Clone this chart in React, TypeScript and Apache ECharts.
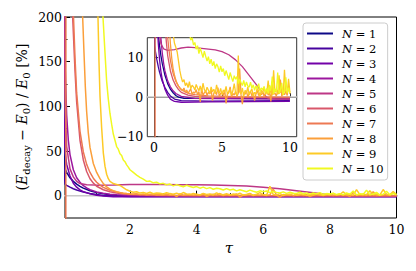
import { useEffect, useRef } from "react";
import * as echarts from "echarts";

const N_LABELS = ["N = 1", "N = 2", "N = 3", "N = 4", "N = 5", "N = 6", "N = 7", "N = 8", "N = 9", "N = 10"];
const COLORS = ["#0d0887", "#46039f", "#7201a8", "#9c179e", "#bd3786", "#d8576b", "#ed7953", "#fb9f3a", "#fdca26", "#f0f921"];

const MAIN_X_LABELS = [2, 4, 6, 8, 10];
const MAIN_X_MINOR = [1, 3, 5, 7, 9];
const MAIN_Y_LABELS = [0, 50, 100, 150, 200];
const MAIN_Y_MINOR = [25, 75, 125, 175];
const INSET_X_LABELS = [0, 5, 10];
const INSET_Y_LABELS = [-10, 0, 10];

const N1 = [[0, 60], [0.05, 30], [0.1, 26], [0.2, 20], [0.3, 16], [0.4, 13], [0.5, 10.5], [0.6, 8.5], [0.8, 5.5], [1.0, 3.4], [1.2, 2], [1.4, 1.1], [1.6, 0.4], [1.8, 0], [2.2, -0.3], [10, -0.4]];
const N2 = [[0, 40], [0.05, 13], [0.1, 11.5], [0.2, 9.5], [0.3, 7.8], [0.4, 6.3], [0.6, 4], [0.8, 2.4], [1.0, 1.2], [1.2, 0.3], [1.5, -0.5], [2, -0.9], [4, -1], [10, -0.9]];
const N3 = [[0, 120], [0.05, 50], [0.1, 35], [0.2, 22], [0.3, 14], [0.4, 9.5], [0.5, 6.5], [0.6, 4.5], [0.8, 2], [1.0, 0.5], [1.2, -0.5], [1.5, -1.1], [2, -1.3], [4, -1.2], [10, -1.1]];
const N4 = [[0, 400], [0.05, 150], [0.1, 90], [0.15, 62], [0.2, 46], [0.3, 29], [0.4, 20], [0.5, 15], [0.6, 11.2], [0.7, 8.6], [0.8, 6.6], [1.0, 4.1], [1.2, 2.6], [1.4, 1.6], [1.6, 0.9], [2, 0.2], [3, -0.3], [10, -0.5]];
const N5 = [[0, 250], [0.05, 110], [0.1, 55], [0.2, 30], [0.3, 21], [0.4, 16], [0.5, 13.5], [0.7, 12.2], [1.0, 11.8], [1.5, 12.0], [2, 12.4], [2.5, 12.6], [3, 12.5], [3.5, 12.3], [4, 12.1], [4.5, 11.9], [5, 11.5], [5.5, 10.7], [6, 9.4], [6.5, 7.7], [7, 5.5], [7.5, 3.3], [7.8, 1.9], [8.1, 0.6], [8.4, -0.3], [9, -0.5], [10, -0.5]];
const N6 = [[0, 900], [0.05, 600], [0.2, 300], [0.28, 200], [0.35, 140], [0.4, 105], [0.5, 62], [0.6, 40], [0.7, 27], [0.8, 19], [0.9, 14], [1.0, 10.5], [1.2, 6.6], [1.4, 4.3], [1.6, 2.9], [1.8, 1.9], [2, 1.2], [2.5, 0.5], [3, 0.2], [4, 0], [10, -0.2]];
const N7 = [[0, -600], [0.07, -600], [0.08, 600], [0.25, 260], [0.3, 205], [0.35, 155], [0.4, 115], [0.5, 72], [0.6, 49], [0.7, 35], [0.8, 26], [0.9, 19.5], [1.0, 15], [1.1, 11.8], [1.2, 9.3], [1.4, 6], [1.6, 4], [1.8, 2.7], [2.0, 1.9], [2.3, 1.3], [2.6, 0.9], [3, 0.6], [4, 0.3], [6, 0.1], [10, 0]];
const N8_HEAD = [[0, 900], [0.5, 320], [0.58, 200], [0.62, 160], [0.66, 122], [0.7, 94], [0.75, 70], [0.8, 54], [0.9, 36], [1.0, 26], [1.1, 19], [1.2, 13.5], [1.3, 9.8], [1.4, 7.2], [1.5, 5.6], [1.6, 4.3], [1.7, 3.4], [1.8, 2.8], [1.9, 2.3]];
const N9_HEAD = [[0, 900], [0.95, 300], [1.04, 200], [1.07, 150], [1.1, 112], [1.15, 76], [1.2, 48], [1.25, 33], [1.3, 24], [1.35, 19], [1.4, 16], [1.5, 13.6], [1.6, 12.6], [1.7, 11.4], [1.8, 9], [1.9, 6.6]];
const N10_HEAD = [[0, 900], [1.12, 300], [1.19, 200], [1.25, 160], [1.3, 128], [1.35, 108], [1.4, 92], [1.45, 80], [1.5, 69], [1.55, 62], [1.6, 55], [1.65, 52], [1.7, 47], [1.75, 45], [1.8, 40], [1.85, 38], [1.9, 34.5], [1.95, 32]];

const TAU_TAIL = [2.0, 2.1, 2.2, 2.3, 2.4, 2.5, 2.6, 2.7, 2.8, 2.9, 3.0, 3.1, 3.2, 3.3, 3.4, 3.5, 3.6, 3.7, 3.8, 3.9, 4.0, 4.1, 4.2, 4.3, 4.4, 4.5, 4.6, 4.7, 4.8, 4.9, 5.0, 5.1, 5.2, 5.3, 5.4, 5.5, 5.6, 5.7, 5.8, 5.9, 6.0, 6.1, 6.2, 6.3, 6.4, 6.5, 6.6, 6.7, 6.8, 6.9, 7.0, 7.1, 7.2, 7.3, 7.4, 7.5, 7.6, 7.7, 7.8, 7.9, 8.0, 8.1, 8.2, 8.3, 8.4, 8.5, 8.6, 8.7, 8.8, 8.9, 9.0, 9.1, 9.2, 9.3, 9.4, 9.5, 9.6, 9.7, 9.8, 9.9, 10.0];
const N8_TAIL = [
  2.0, 1.6, 2.3, 1.2, 1.8, 0.9, 1.5, 2.1, 0.7, 1.3,
  1.0, 1.9, 0.6, 1.4, -1.2, 2.2, 0.5, 1.1, 1.6, 0.4,
  1.2, 0.8, 1.9, -0.9, 1.0, 1.5, 0.6, 2.4, 0.2, 0.9,
  1.3, 0.4, 1.8, -1.6, 0.8, 1.1, 2.6, 0.1, 0.9, 0.5,
  1.4, 0.2, 1.0, 7.2, 0.6, -1.8, 1.2, 0.7, 1.6, 0.0,
  0.9, 1.5, 0.3, 1.1, -0.9, 0.8, 1.7, 0.4, 1.0, 0.6,
  1.3, 0.2, 0.9, 1.8, 0.5, 1.2, -1.1, 3.9, 0.7, 1.0,
  0.3, 1.4, 0.8, 4.4, 0.2, 1.1, 0.6, 1.5, 0.4, 2.9,
  0.8,
];
const N9_TAIL = [
  5.0, 3.8, 4.4, 2.9, 3.6, 2.4, 3.9, 2.1, 3.0, 2.6,
  1.8, 3.2, 2.3, 1.6, 2.8, 1.4, 3.5, 1.9, 1.2, 2.5,
  1.7, 0.9, 2.6, 1.3, 2.0, 0.8, 3.1, 1.5, 1.0, 2.2,
  0.6, 1.8, 1.2, 2.7, 0.7, 1.4, 2.0, 0.5, 1.6, 3.4,
  1.1, 0.4, 10.5, 1.3, 0.8, 2.3, 0.2, 1.7, 1.0, 2.6,
  0.5, 1.4, 2.1, 0.3, 1.2, 0.8, 2.4, 1.5, 0.1, 1.8,
  1.0, 2.6, 0.6, 1.3, 4.2, 0.9, 1.7, 0.4, 6.8, 1.2,
  2.0, 0.7, 5.5, 1.1, 1.9, 0.5, 6.9, 1.4, 0.9, 4.6,
  1.3,
];
const N10_TAIL = [
  29.0, 26.0, 23.0, 20.5, 18.5, 16.0, 16.3, 14.4, 15.0, 13.2,
  13.8, 12.1, 13.0, 11.0, 12.4, 11.2, 10.0, 11.6, 10.3, 9.1,
  10.2, 8.4, 9.6, 7.9, 9.0, 7.2, 8.4, 7.7, 6.3, 7.9,
  6.4, 7.2, 5.4, 6.7, 5.6, 4.4, 6.2, 5.0, 3.9, 5.4,
  4.5, 5.2, 3.4, 4.6, 3.7, 2.9, 4.2, 2.6, 3.8, 2.8,
  2.5, 3.8, 2.2, 3.1, 1.7, 2.9, 2.0, 3.4, 1.5, 2.3,
  1.9, 2.7, 1.2, 2.2, 0.9, 3.0, 1.6, 5.2, 0.8, 2.1,
  1.3, 6.2, 0.9, 1.8, 3.6, 0.6, 1.5, 5.0, 1.1, 2.4,
  1.0,
];

function withTail(head: number[][], tail: number[]) {
  return head.concat(tail.map((v, i) => [TAU_TAIL[i], v]));
}

const SERIES_DATA = [N1, N2, N3, N4, N5, N6, N7, withTail(N8_HEAD, N8_TAIL), withTail(N9_HEAD, N9_TAIL), withTail(N10_HEAD, N10_TAIL)];

const FONT = "DejaVu Serif";

export default function App() {
  const ref = useRef<HTMLDivElement>(null);
  useEffect(() => {
    document.body.style.margin = "0";
    const chart = echarts.init(ref.current!, null, { renderer: "svg" });
    const lbl = { color: "#000", fontFamily: FONT, fontSize: 12.5 };
    const minus = (v: number) => (v < 0 ? "\u2212" + -v : String(v));
    const series: any[] = [];
    [0, 1].forEach((g) => {
      series.push({
        type: "line",
        name: "_zero" + g,
        xAxisIndex: g === 0 ? 0 : 2,
        yAxisIndex: g === 0 ? 0 : 2,
        data: [[-1, 0], [11, 0]],
        symbol: "none",
        silent: true,
        lineStyle: { color: "#c8c8c8", width: 1.5 },
        z: 1,
      });
      SERIES_DATA.forEach((d, i) => {
        series.push({
          type: "line",
          name: N_LABELS[i],
          xAxisIndex: g === 0 ? 0 : 2,
          yAxisIndex: g === 0 ? 0 : 2,
          data: d,
          symbol: "none",
          showSymbol: false,
          color: COLORS[i],
          lineStyle: { color: COLORS[i], width: g === 0 ? 1.5 : 1.3 },
          clip: true,
          z: 2,
        });
      });
    });
    chart.setOption({
      animation: false,
      textStyle: { fontFamily: FONT },
      grid: [
        { left: 65, top: 17, right: 19.5, bottom: 53, show: true, borderColor: "#000", borderWidth: 1 },
        { left: 147.3, top: 37.7, width: 149.4, height: 99, show: true, borderColor: "#333", borderWidth: 1, backgroundColor: "#fff" },
      ],
      xAxis: [
        {
          type: "value", gridIndex: 0, min: 0.05, max: 10, position: "bottom",
          axisLine: { lineStyle: { color: "#000" } },
          axisTick: { inside: true, length: 5, customValues: MAIN_X_LABELS, lineStyle: { color: "#000" } },
          axisLabel: { ...lbl, margin: 5, customValues: MAIN_X_LABELS },
          splitLine: { show: false },
        },
        {
          type: "value", gridIndex: 0, min: 0.05, max: 10, position: "bottom",
          axisLine: { show: false },
          axisTick: { inside: true, length: 2.5, customValues: MAIN_X_MINOR, lineStyle: { color: "#000" } },
          axisLabel: { show: false },
          splitLine: { show: false },
        },
        {
          type: "value", gridIndex: 1, min: -0.5, max: 10.5, position: "bottom",
          axisLine: { lineStyle: { color: "#333" } },
          axisTick: { inside: true, length: 4, customValues: INSET_X_LABELS, lineStyle: { color: "#333" } },
          axisLabel: { ...lbl, margin: 4, customValues: INSET_X_LABELS, formatter: minus },
          splitLine: { show: false },
        },
      ],
      yAxis: [
        {
          type: "value", gridIndex: 0, min: -25, max: 200, position: "left",
          axisLine: { show: true, lineStyle: { color: "#000" } },
          axisTick: { show: true, inside: true, length: 5, customValues: MAIN_Y_LABELS, lineStyle: { color: "#000" } },
          axisLabel: { ...lbl, margin: 3, customValues: MAIN_Y_LABELS },
          splitLine: { show: false },
        },
        {
          type: "value", gridIndex: 0, min: -25, max: 200, position: "left",
          axisLine: { show: false },
          axisTick: { show: true, inside: true, length: 2.5, customValues: MAIN_Y_MINOR, lineStyle: { color: "#000" } },
          axisLabel: { show: false },
          splitLine: { show: false },
        },
        {
          type: "value", gridIndex: 1, min: -10, max: 15, position: "left",
          axisLine: { show: true, lineStyle: { color: "#333" } },
          axisTick: { show: true, inside: true, length: 4, customValues: INSET_Y_LABELS, lineStyle: { color: "#333" } },
          axisLabel: { ...lbl, margin: 4, customValues: INSET_Y_LABELS, formatter: minus },
          splitLine: { show: false },
        },
      ],
      legend: {
        data: N_LABELS,
        orient: "vertical",
        left: 303,
        top: 23,
        icon: "rect",
        itemWidth: 26,
        itemHeight: 2,
        itemGap: 2,
        padding: [4, 4, 5, 4],
        backgroundColor: "rgba(255,255,255,0.8)",
        borderColor: "#cccccc",
        borderWidth: 1,
        borderRadius: 3,
        selectedMode: false,
        formatter: (name: string) => "{i|N}{n| = " + name.slice(4) + "}",
        textStyle: {
          fontFamily: FONT, fontSize: 11.5, lineHeight: 13, color: "#000", padding: [0, 0, 0, 4],
          rich: {
            i: { fontFamily: FONT, fontSize: 11.5, fontStyle: "italic", color: "#000", lineHeight: 13 },
            n: { fontFamily: FONT, fontSize: 11.5, color: "#000", lineHeight: 13 },
          },
        },
      },
      graphic: [
        {
          type: "text",
          x: 22,
          y: 117,
          rotation: Math.PI / 2,
          style: {
            text: "{n|(}{i|E}{s|decay}{n| \u2212 }{i|E}{s|0}{n|) / }{i|E}{s|0}{n| [%]}",
            align: "center",
            verticalAlign: "middle",
            rich: {
              n: { fontFamily: FONT, fontSize: 14, fill: "#000", lineHeight: 18, verticalAlign: "middle" },
              i: { fontFamily: FONT, fontSize: 14, fontStyle: "italic", fill: "#000", lineHeight: 18, verticalAlign: "middle" },
              s: { fontFamily: FONT, fontSize: 10, fill: "#000", lineHeight: 10, verticalAlign: "bottom" },
            },
          },
        },
        {
          type: "text",
          x: 229,
          y: 248,
          style: { text: "\u03c4", fontFamily: FONT, fontSize: 15, fontStyle: "italic", fill: "#000", align: "center", verticalAlign: "middle" },
        },
      ],
      series,
    });
    return () => chart.dispose();
  }, []);
  return <div ref={ref} style={{ width: 416, height: 271 }} />;
}
